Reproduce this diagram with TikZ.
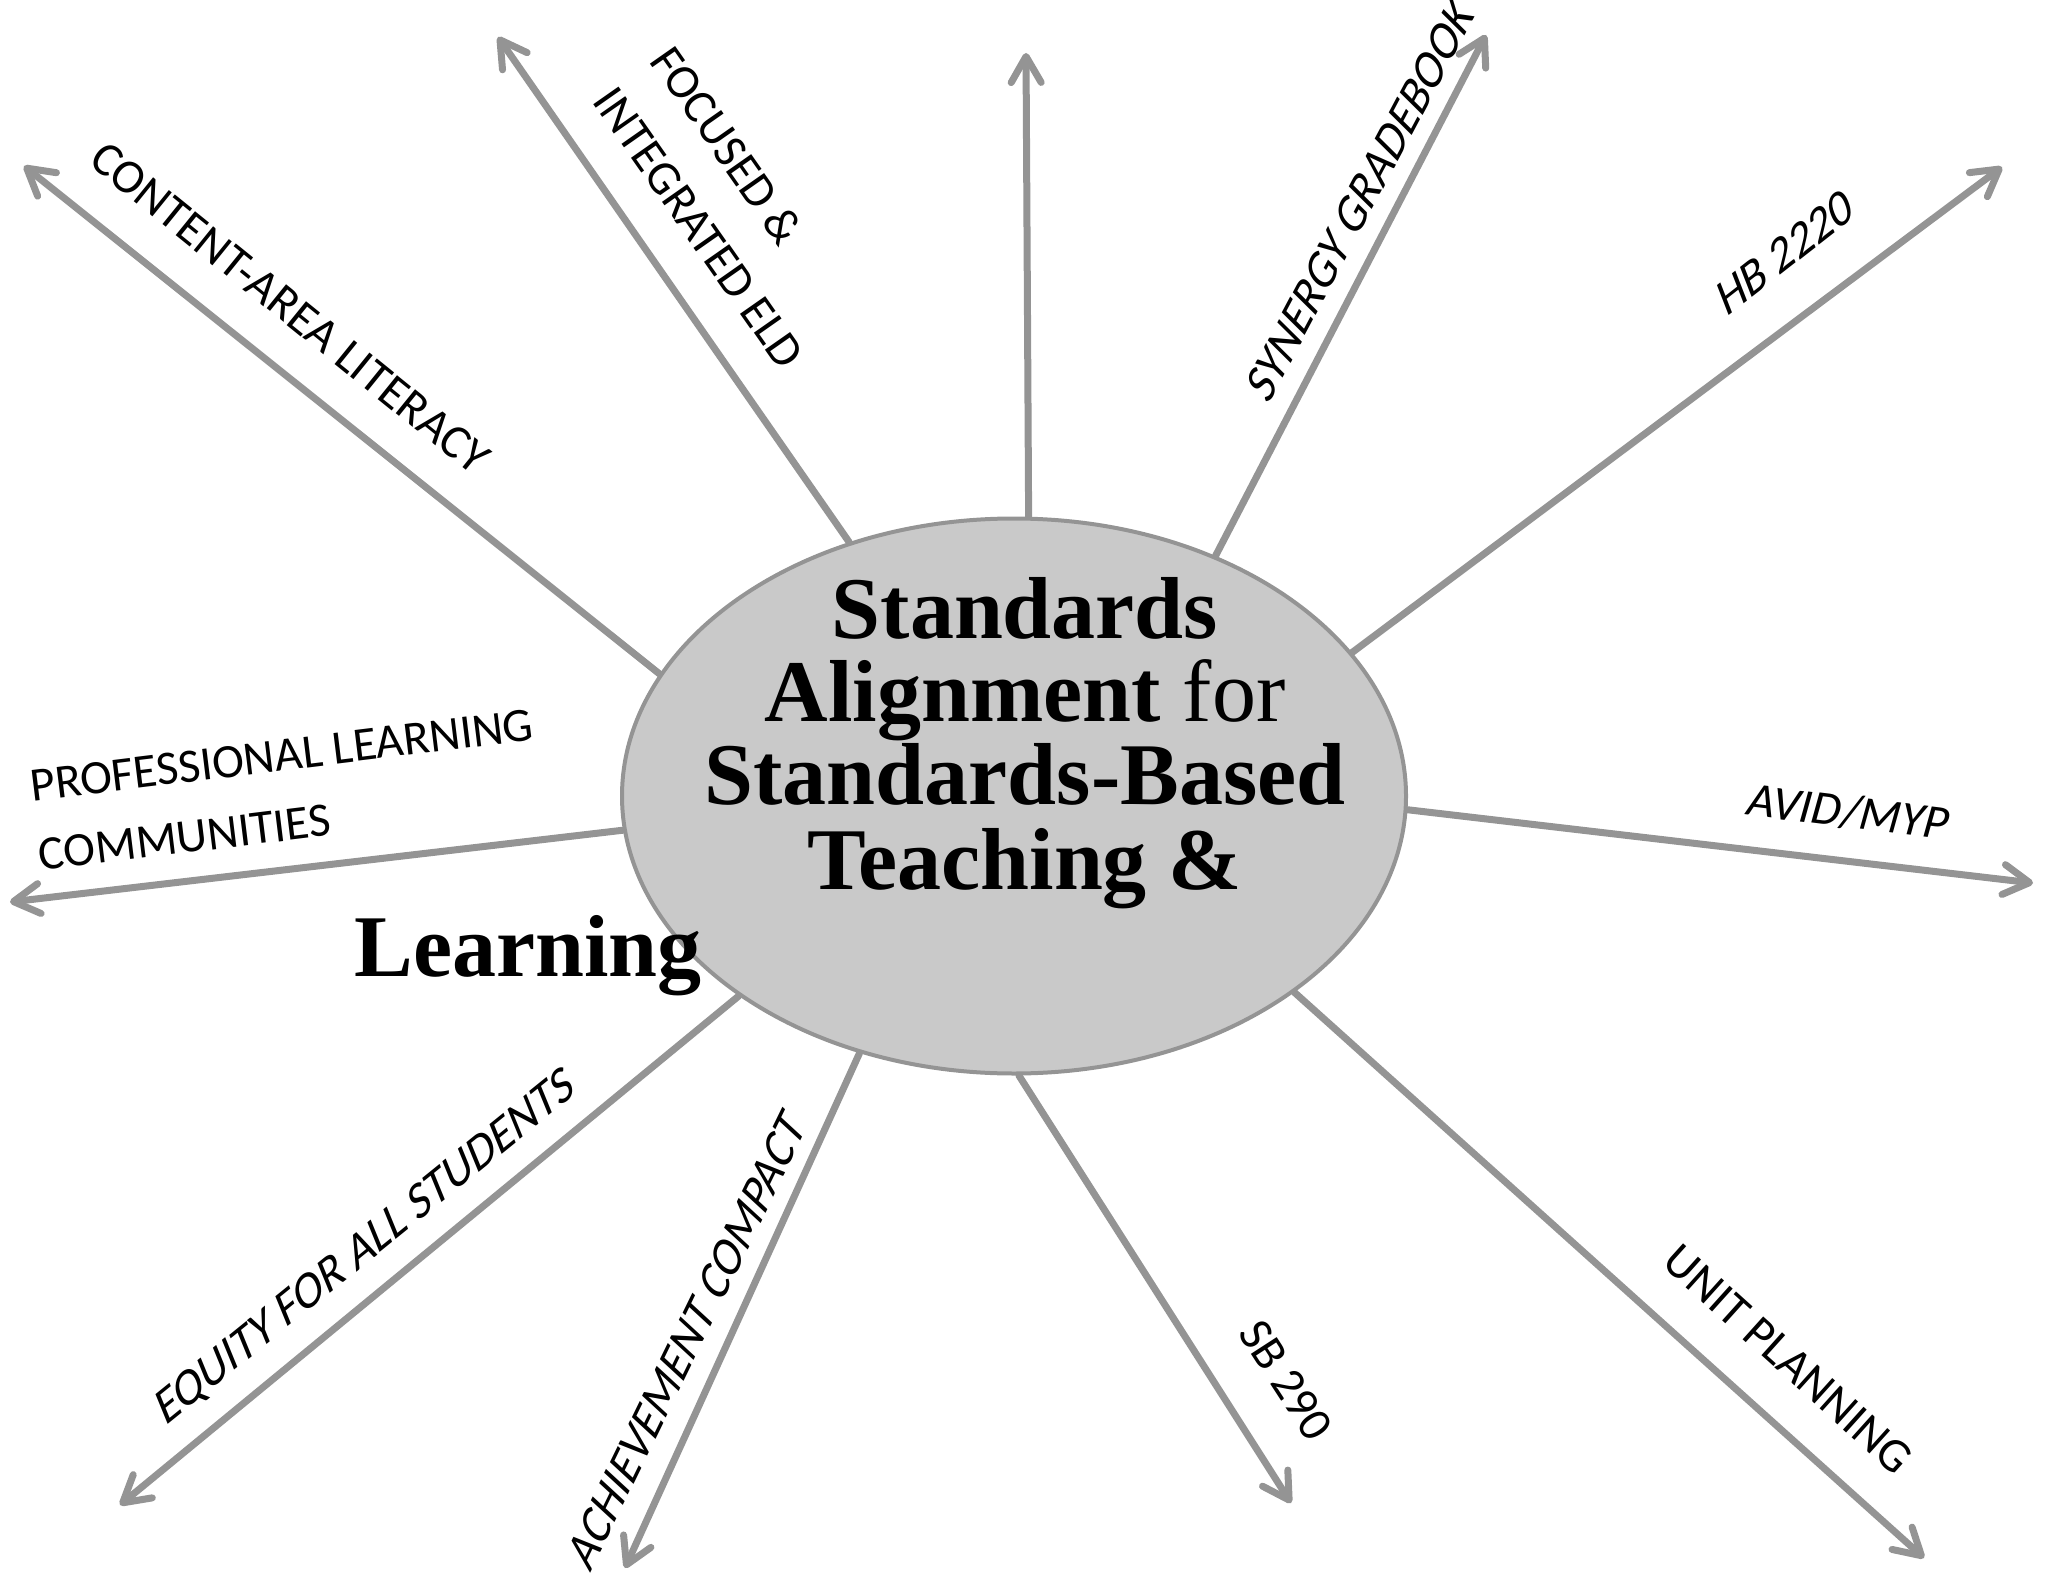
\documentclass[tikz,border=0pt]{standalone}
\usepackage{fontspec}
\setmainfont{Liberation Serif}
\newfontfamily\lblfont{Carlito}
\usetikzlibrary{arrows.meta,shapes.geometric}
\definecolor{arrgray}{RGB}{148,148,148}
\definecolor{ellfill}{RGB}{201,201,201}
\pgfdeclarelayer{bg}
\pgfsetlayers{bg,main}
\begin{document}
\begin{tikzpicture}[x=0.5pt,y=-0.5pt,
  spoke/.style={draw=arrgray, line width=3.5pt, line cap=round,
    -{Straight Barb[length=13pt,width=15pt,line cap=round,line join=round]}},
  lbl/.style={font=\lblfont\fontsize{24}{35}\selectfont, inner sep=0pt, align=left},
  ttl/.style={font=\fontsize{44}{42}\selectfont, inner sep=0pt, anchor=base},
  hub/.style={ellipse, draw=arrgray, line width=2pt, fill=ellfill,
    minimum width=392pt, minimum height=277.5pt, inner sep=0pt}]
\useasboundingbox (0,0) rectangle (2049,1583);

% hub
\node[hub] (e) at (1014,796) {};

% arrow tips
\coordinate (tTop)  at (1026,53);
\coordinate (tFoc)  at (498,37);
\coordinate (tCon)  at (24,166);
\coordinate (tProf) at (10,902);
\coordinate (tEq)   at (120,1505);
\coordinate (tAch)  at (625,1568);
\coordinate (tSB)   at (1291,1503);
\coordinate (tUnit) at (1924,1558);
\coordinate (tAvid) at (2033,883);
\coordinate (tHB)   at (2002,167);
\coordinate (tSyn)  at (1486,35);

\begin{pgfonlayer}{bg}
\draw[spoke] (e.87.5)  -- (tTop);
\draw[spoke] (e.123.1) -- (tFoc);
\draw[spoke] (e.161.6) -- (tCon);
\draw[spoke] (e.185.5) -- (tProf);
\draw[spoke] (e.216.4) -- (tEq);
\draw[spoke] (e.239.9) -- (tAch);
\draw[spoke] (e.271.4) -- (tSB);
\draw[spoke] (e.325.4) -- (tUnit);
\draw[spoke] (e.358)   -- (tAvid);
\draw[spoke] (e.23.7)  -- (tHB);
\draw[spoke] (e.50.7)  -- (tSyn);
\end{pgfonlayer}

% labels
\node[lbl, rotate=-39] (lContent) at (290,308) {CONTENT-AREA LITERACY};
\node[lbl, rotate=-55] (lFocused) at (728,207) {FOCUSED \&\\INTEGRATED ELD};
\node[lbl, rotate=62, xslant=0.3] (lSynergy) at (1360,200) {SYNERGY GRADEBOOK};
\node[lbl, rotate=38, xslant=0.3] (lHB) at (1785,252) {HB 2220};
\node[lbl, rotate=-7, xslant=0.15] (lAvid) at (1849,812) {AVID/MYP};
\node[lbl, rotate=-42] (lUnit) at (1788,1359) {UNIT PLANNING};
\node[lbl, rotate=-57] (lSB) at (1286,1380) {SB 290};
\node[lbl, rotate=64, xslant=0.3] (lAch) at (687,1340) {ACHIEVEMENT COMPACT};
\node[lbl, rotate=39, xslant=0.3] (lEq) at (366,1248) {EQUITY FOR ALL STUDENTS};
\node[lbl, rotate=7] (lProf) at (286,790) {PROFESSIONAL LEARNING\\COMMUNITIES};

% title
\node[ttl] (t1) at (1025,638) {\bfseries Standards};
\node[ttl] (t2) at (1025,721) {{\bfseries Alignment} for};
\node[ttl] (t3) at (1025,804) {\bfseries Standards-Based};
\node[ttl] (t4) at (1025,889) {\bfseries Teaching \&};
\node[ttl] (t5) at (528,976) {\bfseries Learning};
\end{tikzpicture}
\end{document}
